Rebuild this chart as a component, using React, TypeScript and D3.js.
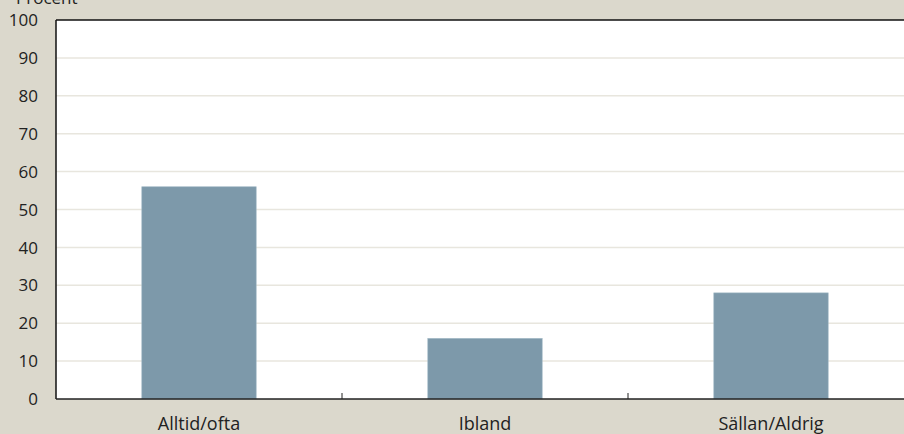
import React, { useEffect, useRef } from "react";
import * as d3 from "d3";

const categories = ["Alltid/ofta", "Ibland", "Sällan/Aldrig"];
const values = [56, 16, 28];
const yTicks = [0, 10, 20, 30, 40, 50, 60, 70, 80, 90, 100];
const yTitle = "Procent";

const W = 904;
const H = 434;
const M = { left: 56, right: -10, top: 20, bottom: 35 };

export default function App() {
  const ref = useRef<SVGSVGElement>(null);
  useEffect(() => {
    const svg = d3.select(ref.current);
    svg.selectAll("*").remove();
    const font = "'Open Sans', 'DejaVu Sans', sans-serif";
    svg.append("rect").attr("width", W).attr("height", H).attr("fill", "#dbd8cc");
    const x = d3.scaleBand<string>().domain(categories).range([M.left, W - M.right]).paddingInner(0).paddingOuter(0);
    const y = d3.scaleLinear().domain([0, 100]).range([H - M.bottom, M.top]);
    svg.append("rect").attr("x", M.left).attr("y", M.top).attr("width", W - M.right - M.left).attr("height", H - M.bottom - M.top).attr("fill", "#ffffff");
    // grid
    svg.append("g").selectAll("line").data(yTicks.filter(t => t > 0 && t < 100)).join("line")
      .attr("x1", M.left).attr("x2", W - M.right).attr("y1", d => y(d)).attr("y2", d => y(d))
      .attr("stroke", "#e8e6de").attr("stroke-width", 1.5);
    // bars
    const bw = x.bandwidth() * 0.4;
    svg.append("g").selectAll("rect").data(values).join("rect")
      .attr("x", (d, i) => (x(categories[i]) as number) + x.bandwidth() / 2 - bw / 2)
      .attr("width", bw)
      .attr("y", d => y(d))
      .attr("height", d => y(0) - y(d))
      .attr("fill", "#7d99aa")
      .attr("stroke", "#a3bac6").attr("stroke-width", 0.6);
    // borders
    svg.append("line").attr("x1", M.left).attr("x2", W).attr("y1", M.top).attr("y2", M.top).attr("stroke", "#111").attr("stroke-width", 1.5);
    svg.append("line").attr("x1", M.left).attr("x2", M.left).attr("y1", M.top).attr("y2", y(0)).attr("stroke", "#111").attr("stroke-width", 1.5);
    svg.append("line").attr("x1", M.left).attr("x2", W).attr("y1", y(0)).attr("y2", y(0)).attr("stroke", "#222").attr("stroke-width", 1.5);
    // category ticks
    svg.append("g").selectAll("line").data(categories.slice(1)).join("line")
      .attr("x1", d => x(d) as number).attr("x2", d => x(d) as number)
      .attr("y1", y(0)).attr("y2", y(0) - 6).attr("stroke", "#222").attr("stroke-width", 1);
    // y labels
    svg.append("g").selectAll("text").data(yTicks).join("text")
      .attr("x", 38).attr("y", d => y(d)).attr("dy", "0.36em").attr("text-anchor", "end")
      .attr("font-family", font).attr("font-size", 17).attr("fill", "#222").text(d => String(d));
    // x labels
    svg.append("g").selectAll("text").data(categories).join("text")
      .attr("x", d => (x(d) as number) + x.bandwidth() / 2).attr("y", 430).attr("text-anchor", "middle")
      .attr("font-family", font).attr("font-size", 18).attr("fill", "#222").text(d => d);
    svg.append("text").attr("x", 16).attr("y", 4).attr("font-family", font).attr("font-size", 17).attr("fill", "#222").text(yTitle);
  }, []);
  return (
    <svg ref={ref} width={W} height={H} style={{ position: "absolute", left: 0, top: 0, display: "block" }} />
  );
}
